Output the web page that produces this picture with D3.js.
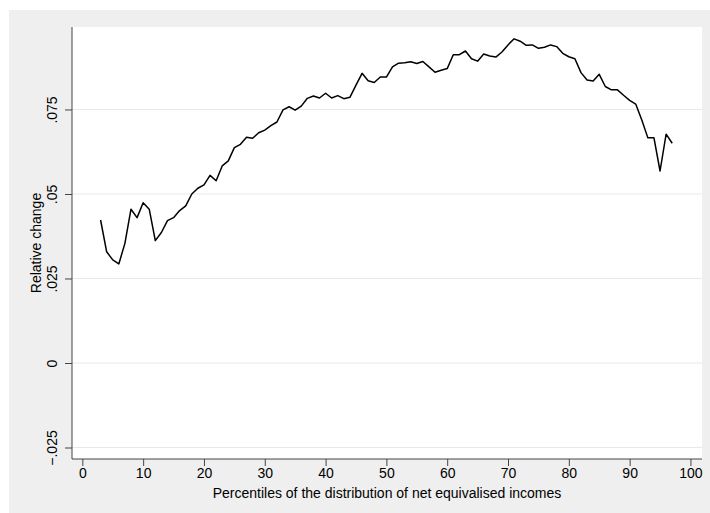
<!DOCTYPE html>
<html>
<head>
<meta charset="utf-8">
<script src="https://cdn.jsdelivr.net/npm/d3@7"></script>
<style>
	body { margin: 0; background: #fff; }
	text { font-family: 'Liberation Sans', Arial, sans-serif; fill: #000; }
</style>
</head>
<body>
<svg></svg>
<script>
const svg = d3.select('svg')
	.attr('width', 710)
	.attr('height', 513);

// percentiles shown on the x axis
const percentiles = d3.range(3, 98);

// relative change per percentile
const relChange = [
	0.0423, 0.0329, 0.0305, 0.0293, 0.0354, 0.0455, 0.0430, 0.0474, 0.0455, 0.0362,
	0.0386, 0.0421, 0.0430, 0.0451, 0.0465, 0.0500, 0.0517, 0.0527, 0.0555, 0.0539,
	0.0583, 0.0598, 0.0637, 0.0647, 0.0668, 0.0665, 0.0681, 0.0689, 0.0702, 0.0713,
	0.0749, 0.0758, 0.0748, 0.0760, 0.0783, 0.0790, 0.0784, 0.0798, 0.0784, 0.0791,
	0.0782, 0.0786, 0.0822, 0.0857, 0.0835, 0.0830, 0.0846, 0.0846, 0.0876, 0.0887,
	0.0888, 0.0891, 0.0886, 0.0892, 0.0876, 0.0860, 0.0866, 0.0871, 0.0912, 0.0912,
	0.0923, 0.0900, 0.0893, 0.0914, 0.0908, 0.0905, 0.0920, 0.0941, 0.0959, 0.0952,
	0.0940, 0.0941, 0.0931, 0.0934, 0.0941, 0.0936, 0.0916, 0.0906, 0.0900, 0.0859,
	0.0837, 0.0834, 0.0854, 0.0818, 0.0808, 0.0808, 0.0792, 0.0777, 0.0766, 0.0719,
	0.0666, 0.0666, 0.0568, 0.0677, 0.0650
];

const xTicks = d3.range(0, 101, 10);
const yTicks = [-0.025, 0, 0.025, 0.05, 0.075];
const yTickLabels = ['\u2212.025', '0', '.025', '.05', '.075'];

const data = percentiles.map((p, i) => ({ p, v: relChange[i] }));

const render = data => {
	const margin = { top: 27, right: 8, bottom: 54, left: 72 },
		innerWidth = 710 - margin.left - margin.right,
		innerHeight = 513 - margin.top - margin.bottom;

	// outer grey graph region
	svg.append('rect')
		.attr('x', 9).attr('y', 10)
		.attr('width', 701).attr('height', 503)
		.attr('fill', '#efefef');

	const xScale = d3.scaleLinear()
		.domain([-1.7, 101.9])
		.range([0, innerWidth]);

	const yScale = d3.scaleLinear()
		.domain([-0.0284, 0.0994])
		.range([innerHeight, 0]);

	const g = svg.append('g')
		.attr('transform', `translate(${margin.left}, ${margin.top})`);

	g.append('rect')
		.attr('width', innerWidth)
		.attr('height', innerHeight)
		.attr('fill', '#fff');

	// gridlines
	g.selectAll('.grid').data(yTicks).enter().append('line')
		.attr('x1', 0).attr('x2', innerWidth)
		.attr('y1', d => yScale(d)).attr('y2', d => yScale(d))
		.attr('stroke', '#e8e8e8')
		.attr('stroke-width', 1);

	const yAxis = d3.axisLeft(yScale)
		.tickValues(yTicks)
		.tickFormat((d, i) => yTickLabels[i])
		.tickSize(7)
		.tickSizeOuter(0)
		.tickPadding(4);

	const yAxisG = g.append('g').call(yAxis);
	yAxisG.select('.domain').attr('stroke', '#444').attr('d', `M0,0V${innerHeight}`);
	yAxisG.selectAll('.tick line').attr('stroke', '#444');
	yAxisG.selectAll('.tick text')
		.attr('font-size', 14)
		.attr('text-anchor', 'middle')
		.attr('x', 0).attr('dy', 0)
		.attr('transform', 'translate(-15,0) rotate(-90)');

	yAxisG.append('text')
		.attr('y', -31)
		.attr('x', -innerHeight / 2)
		.attr('transform', 'rotate(-90)')
		.attr('text-anchor', 'middle')
		.attr('font-size', 14)
		.text('Relative change');

	const xAxis = d3.axisBottom(xScale)
		.tickValues(xTicks)
		.tickFormat(d3.format('d'))
		.tickSize(7)
		.tickSizeOuter(0)
		.tickPadding(2);

	const xAxisG = g.append('g').call(xAxis)
		.attr('transform', `translate(0, ${innerHeight})`);
	xAxisG.select('.domain').attr('stroke', '#444').attr('d', `M0,0H${innerWidth}`);
	xAxisG.selectAll('.tick line').attr('stroke', '#444');
	xAxisG.selectAll('.tick text').attr('font-size', 14);

	xAxisG.append('text')
		.attr('y', 39)
		.attr('x', innerWidth / 2)
		.attr('text-anchor', 'middle')
		.attr('font-size', 14)
		.text('Percentiles of the distribution of net equivalised incomes');

	const lineGenerator = d3.line()
		.x(d => xScale(d.p))
		.y(d => yScale(d.v));

	g.append('path')
		.attr('d', lineGenerator(data))
		.attr('fill', 'none')
		.attr('stroke', '#000')
		.attr('stroke-width', 1.5)
		.attr('stroke-linejoin', 'round');
};

render(data);
</script>
</body>
</html>
